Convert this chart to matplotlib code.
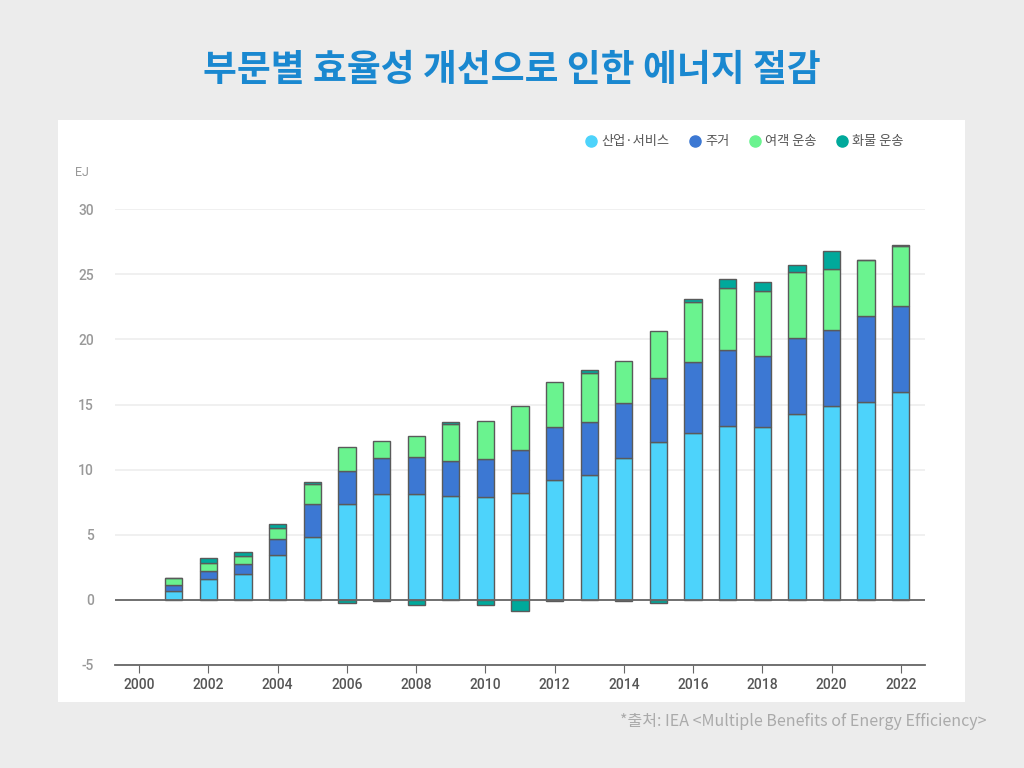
import matplotlib.pyplot as plt
from matplotlib.patches import Rectangle
from matplotlib.lines import Line2D
import numpy as np

plt.rcParams['font.family'] = ['Noto Sans CJK KR', 'DejaVu Sans']
plt.rcParams['axes.unicode_minus'] = False

# 데이터 (EJ)
years = list(range(2001, 2023))
industry = [0.69, 1.61, 2.01, 3.47, 4.85, 7.35, 8.16, 8.16, 7.96, 7.91, 8.24,
            9.18, 9.59, 10.89, 12.14, 12.85, 13.37, 13.26, 14.31, 14.87, 15.23, 15.97]
housing = [0.43, 0.63, 0.77, 1.22, 2.55, 2.52, 2.76, 2.81, 2.70, 2.93, 3.24,
           4.08, 4.11, 4.23, 4.90, 5.44, 5.81, 5.51, 5.81, 5.89, 6.58, 6.62]
passenger = [0.54, 0.61, 0.61, 0.82, 1.47, 1.91, 1.25, 1.60, 2.83, 2.93, 3.39,
             3.44, 3.69, 3.24, 3.62, 4.59, 4.79, 4.95, 5.07, 4.67, 4.26, 4.57]
freight = [0.0, 0.34, 0.26, 0.30, 0.18, -0.25, -0.10, -0.40, 0.15, -0.41, -0.89,
           -0.10, 0.26, -0.10, -0.25, 0.20, 0.69, 0.69, 0.52, 1.40, 0.0, 0.13]

labels = ['산업·서비스', '주거', '여객 운송', '화물 운송']
colors = ['#4dd3fb', '#3c78d3', '#6af38f', '#00a99b']

fig = plt.figure(figsize=(10.24, 7.68), dpi=100)
fig.patch.set_facecolor('#ececec')

# 흰색 패널
fig.patches.append(Rectangle((58 / 1024, 1 - 702 / 768), (965 - 58) / 1024, (702 - 120) / 768,
                             transform=fig.transFigure, facecolor='white', edgecolor='none', zorder=-5))

fig.text(0.5, 1 - 71 / 768, '부문별 효율성 개선으로 인한 에너지 절감', ha='center', va='center',
         fontsize=26.5, fontweight='bold', color='#1a88d0')

ax = fig.add_axes([115 / 1024, 1 - 665 / 768, (925 - 115) / 1024, (665 - 209.3) / 768])
ax.set_zorder(2)
ax.set_facecolor('white')

ind = np.array(industry)
hou = np.array(housing)
pas = np.array(passenger)
fre = np.array(freight)
edge = dict(edgecolor='#5a5a5a', linewidth=1.0, width=0.5, zorder=3)

ax.bar(years, ind, color=colors[0], **edge)
ax.bar(years, hou, bottom=ind, color=colors[1], **edge)
ax.bar(years, pas, bottom=ind + hou, color=colors[2], **edge)
pos_bottom = ind + hou + pas
fre_bottom = np.where(fre >= 0, pos_bottom, 0)
ax.bar(years, fre, bottom=fre_bottom, color=colors[3], **edge)

ax.set_xlim(1999.3, 2022.7)
ax.set_ylim(-5, 30)
ax.set_yticks(range(-5, 31, 5))
ax.set_xticks(range(2000, 2023, 2))
ax.grid(axis='y', color='#eeeeee', linewidth=1.2, zorder=0)
ax.axhline(0, color='#666666', linewidth=1.3, zorder=4)

for s in ['top', 'right', 'left']:
    ax.spines[s].set_visible(False)
ax.spines['bottom'].set_color('#666666')
ax.spines['bottom'].set_linewidth(1.3)
ax.tick_params(axis='y', length=0, pad=15, labelsize=10, labelcolor='#999999')
ax.tick_params(axis='x', length=6, color='#666666', labelsize=10, labelcolor='#555555')
for t in ax.get_xticklabels() + ax.get_yticklabels():
    t.set_family('Roboto')
    t.set_fontweight('medium')

fig.text(75 / 1024, 1 - 172 / 768, 'EJ', fontsize=9, color='#999999', va='center', family='Roboto')

handles = [Line2D([], [], marker='o', linestyle='none', markersize=8,
                  markerfacecolor=c, markeredgecolor=c) for c in colors]
fig.legend(handles, labels, loc='center', bbox_to_anchor=(743 / 1024, 1 - 142 / 768),
           ncol=4, frameon=False, fontsize=9.5, handletextpad=0.1, columnspacing=1.2,
           handlelength=1.4, labelcolor='#555555')

fig.text(987 / 1024, 1 - 721 / 768, '*출처: IEA <Multiple Benefits of Energy Efficiency>',
         ha='right', va='center', fontsize=11.5, color='#aaaaaa')

fig.savefig('out.png', dpi=100, facecolor=fig.get_facecolor())
